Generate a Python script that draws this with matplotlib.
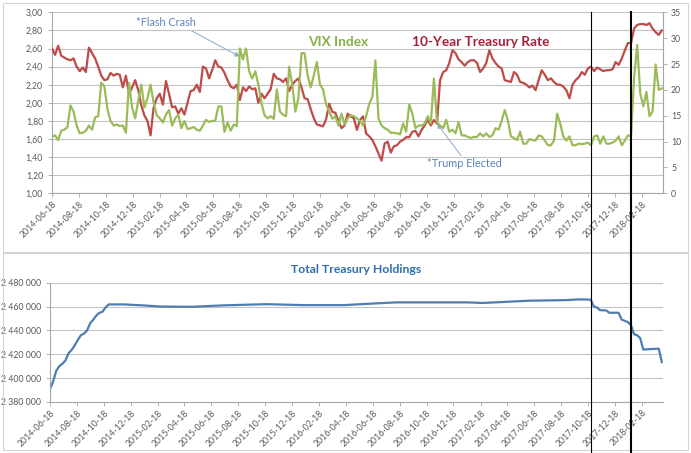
import numpy as np
import matplotlib
matplotlib.use("Agg")
import matplotlib.pyplot as plt
import matplotlib.transforms as mtransforms
from matplotlib.lines import Line2D
from matplotlib.patches import Rectangle

# weekly observations, week 0 = 2014-06-18
start = np.datetime64("2014-06-18")

rate = [2.60, 2.53, 2.63, 2.52, 2.50, 2.48, 2.47, 2.49, 2.40, 2.35,
        2.39, 2.34, 2.61, 2.55, 2.49, 2.40, 2.30, 2.25, 2.26, 2.33,
        2.30, 2.32, 2.31, 2.17, 2.30, 2.10, 2.17, 2.25, 2.14, 1.97,
        1.86, 1.80, 1.64, 1.95, 2.05, 2.10, 1.98, 2.24, 2.10, 1.95,
        1.96, 1.88, 1.94, 1.87, 2.00, 2.13, 2.14, 2.20, 2.12, 2.40,
        2.38, 2.27, 2.36, 2.47, 2.40, 2.39, 2.33, 2.25, 2.18, 2.16,
        2.20, 2.03, 2.17, 2.13, 2.18, 2.15, 2.16, 2.00, 2.10, 2.05,
        2.10, 2.15, 2.32, 2.27, 2.26, 2.23, 2.27, 2.13, 2.20, 2.24,
        2.27, 2.17, 2.05, 2.04, 1.93, 1.83, 1.76, 1.75, 1.74, 1.82,
        1.99, 1.90, 1.89, 1.80, 1.72, 1.75, 1.88, 1.85, 1.83, 1.70,
        1.81, 1.85, 1.66, 1.63, 1.59, 1.52, 1.44, 1.36, 1.55, 1.57,
        1.45, 1.52, 1.53, 1.57, 1.59, 1.62, 1.62, 1.68, 1.69, 1.63,
        1.70, 1.75, 1.81, 1.75, 1.81, 1.77, 2.25, 2.34, 2.36, 2.44,
        2.58, 2.55, 2.48, 2.45, 2.41, 2.45, 2.47, 2.47, 2.44, 2.34,
        2.38, 2.44, 2.58, 2.49, 2.44, 2.40, 2.38, 2.25, 2.24, 2.23,
        2.34, 2.31, 2.23, 2.22, 2.20, 2.17, 2.19, 2.14, 2.25, 2.36,
        2.31, 2.25, 2.27, 2.23, 2.20, 2.20, 2.18, 2.14, 2.05, 2.20,
        2.25, 2.28, 2.34, 2.31, 2.38, 2.40, 2.35, 2.39, 2.37, 2.35,
        2.36, 2.36, 2.37, 2.45, 2.42, 2.49, 2.58, 2.66, 2.66, 2.82,
        2.86, 2.87, 2.87, 2.86, 2.88, 2.82, 2.78, 2.75, 2.80]

vix = [10.9, 11.2, 10.3, 12.1, 12.3, 12.8, 17.0, 15.8, 13.1, 11.6,
       11.7, 12.1, 13.1, 12.3, 14.7, 14.9, 21.4, 20.7, 16.3, 14.0,
       13.1, 13.3, 13.0, 13.1, 11.7, 21.4, 16.6, 14.5, 17.9, 21.0,
       16.6, 18.4, 21.0, 17.5, 15.1, 14.5, 13.7, 15.2, 16.1, 13.1,
       14.5, 15.2, 12.6, 14.0, 12.4, 12.6, 12.8, 12.3, 12.1, 13.1,
       14.2, 13.8, 14.0, 14.0, 16.8, 16.8, 11.9, 13.7, 12.1, 13.3,
       13.0, 28.0, 25.9, 28.0, 23.6, 22.2, 23.6, 21.0, 17.5, 15.1,
       14.5, 14.9, 14.4, 20.1, 15.8, 15.2, 14.9, 24.5, 21.0, 15.8,
       18.4, 27.1, 27.1, 22.8, 20.5, 22.8, 25.4, 21.0, 20.1, 17.2,
       15.8, 14.4, 14.9, 13.1, 15.4, 13.3, 14.5, 15.1, 14.9, 14.5,
       14.0, 13.1, 14.9, 17.3, 18.6, 25.7, 14.5, 13.1, 12.6, 12.3,
       11.7, 11.7, 11.6, 11.4, 13.5, 11.9, 17.2, 15.4, 12.6, 13.1,
       13.1, 13.5, 14.9, 13.5, 22.2, 13.7, 13.1, 12.6, 14.2, 11.9,
       12.3, 11.6, 13.8, 11.2, 11.2, 10.9, 10.7, 10.9, 10.9, 11.6,
       11.0, 11.6, 10.9, 11.2, 12.6, 12.3, 14.0, 16.1, 14.2, 11.0,
       10.7, 10.3, 11.9, 9.6, 9.6, 10.5, 10.3, 10.2, 11.2, 11.0,
       10.2, 9.3, 9.3, 10.2, 15.4, 13.5, 11.0, 10.2, 11.0, 9.3,
       9.3, 9.6, 9.5, 9.6, 9.8, 9.3, 11.0, 11.2, 9.6, 11.0,
       9.6, 9.6, 9.8, 10.2, 11.0, 9.3, 10.2, 11.2, 11.0, 22.4,
       28.7, 19.3, 16.8, 19.6, 14.9, 15.8, 24.9, 20.0, 20.3]

hold_week = [0, 1, 2, 3, 4, 5, 6, 7, 8, 9, 10, 11, 12, 13, 14, 15, 16, 17, 18, 19,
             24, 30, 36, 46, 56, 70, 82, 95, 105, 112,
             135, 140, 148, 155, 167, 171, 175,
             176, 177, 178, 180, 181, 184, 185, 186, 187, 188, 189, 190, 191, 192, 197, 198]
holdings = [2391000, 2397000, 2406000, 2410000, 2412000, 2414800, 2420800, 2423600,
            2427500, 2432000, 2436000, 2437300, 2440000, 2446000, 2449000, 2452500,
            2454700, 2455700, 2459300, 2461800,
            2461800, 2461000, 2460000, 2459800, 2461000, 2462000, 2461200, 2461200,
            2462600, 2463500,
            2463500, 2463000, 2464000, 2464900, 2465400, 2466000, 2465800,
            2460000, 2459200, 2457000, 2456700, 2454800, 2454800, 2449100, 2448000,
            2447000, 2444500, 2436800, 2436000, 2433500, 2424000, 2424700, 2413500]

xtick_labels = ["2014-06-18", "2014-08-18", "2014-10-18", "2014-12-18", "2015-02-18",
                "2015-04-18", "2015-06-18", "2015-08-18", "2015-10-18", "2015-12-18",
                "2016-02-18", "2016-04-18", "2016-06-18", "2016-08-18", "2016-10-18",
                "2016-12-18", "2017-02-18", "2017-04-18", "2017-06-18", "2017-08-18",
                "2017-10-18", "2017-12-18", "2018-02-18"]

event_weeks = [175, 188]   # runoff start / second marker

week = np.timedelta64(7, "D")
dates = start + np.arange(len(rate)) * week
hold_dates = start + np.array(hold_week) * week
xticks = np.array(xtick_labels, dtype="datetime64[D]")
xmax = np.datetime64("2018-04-06")

plt.rcParams["font.family"] = ["Lato", "DejaVu Sans"]

W, H = 691, 453
fig = plt.figure(figsize=(W / 100, H / 100), dpi=100)
fx = lambda p: p / W
fy = lambda p: 1 - p / H

# panel frames
for top, bot in [(2.5, 252.5), (252.5, 450)]:
    fig.add_artist(Rectangle((fx(2.5), fy(bot)), fx(688) - fx(2.5), fy(top) - fy(bot),
                             transform=fig.transFigure, fill=False, ec="#d4d4d4", lw=0.8))

grey = "#a6a6a6"
lab = "#595959"
grid = "#c3c3c3"

ax1 = fig.add_axes([fx(52), fy(193.3), fx(662.7) - fx(52), fy(12.3) - fy(193.3)])
ax2 = ax1.twinx()
ax3 = fig.add_axes([fx(50), fy(402), fx(662.7) - fx(50), fy(282.7) - fy(402)])

ax1.plot(dates, rate, color="#be4b48", lw=1.6, zorder=3)
ax2.plot(dates, vix, color="#9bbb59", lw=1.6)

ax1.set_xlim(start, xmax)
ax1.set_ylim(1, 3)
ax1.set_yticks(np.arange(1, 3.01, 0.2))
ax1.set_yticklabels([f"{v:.2f}".replace(".", ",") for v in np.arange(1, 3.01, 0.2)])
ax2.set_ylim(0, 35)
ax2.set_yticks(range(0, 36, 5))
ax1.set_xticks(xticks)
ax1.set_xticklabels(xtick_labels, rotation=45, ha="right", rotation_mode="anchor")
ax1.grid(axis="y", color=grid, lw=0.8)
ax1.set_axisbelow(True)

for a in (ax1, ax2):
    a.tick_params(labelsize=6.3, color=grey, labelcolor=lab, length=3, width=0.6)
    for s in a.spines.values():
        s.set_visible(False)
ax1.spines["left"].set_visible(True)
ax1.spines["bottom"].set_visible(True)
ax2.spines["right"].set_visible(True)
for s in ("left", "bottom"):
    ax1.spines[s].set_color(grey)
ax2.spines["right"].set_color(grey)
ax1.tick_params(axis="x", pad=1.5)
ax2.tick_params(axis="y", pad=3)

fig.text(fx(338), fy(41.5), "VIX Index", color="#8aae4a", fontsize=9.8,
         fontweight="bold", ha="center", va="center")
fig.text(fx(480.5), fy(42.5), "10-Year Treasury Rate", color="#a3223a", fontsize=9.8,
         fontweight="bold", ha="center", va="center")

arrow = dict(arrowstyle="-|>", color="#8aa8d0", lw=0.7, mutation_scale=7, shrinkA=0, shrinkB=0)
ax1.annotate("*Flash Crash", xy=(dates[61], 2.51), xytext=(0.186, 0.942),
             textcoords="axes fraction", ha="center", va="center", fontsize=7.8,
             color="#5a84bd", arrowprops=dict(arrow, relpos=(0.82, 0.1)))
ax1.annotate("*Trump Elected", xy=(dates[125], rate[125]), xytext=(0.6746, 0.162),
             textcoords="axes fraction", ha="center", va="center", fontsize=7.8,
             color="#5a84bd", arrowprops=dict(arrow, relpos=(0.5, 0.9)))

# bottom panel
ax3.plot(hold_dates, holdings, color="#4f7db3", lw=1.6)
ax3.set_xlim(start, xmax)
ax3.set_ylim(2380000, 2480000)
ax3.set_yticks(range(2380000, 2480001, 20000))
ax3.set_yticklabels([f"{v:,}".replace(",", " ") for v in range(2380000, 2480001, 20000)])
ax3.set_xticks(xticks)
ax3.set_xticklabels(xtick_labels, rotation=45, ha="right", rotation_mode="anchor")
ax3.grid(axis="y", color=grid, lw=0.8)
ax3.set_axisbelow(True)
ax3.tick_params(labelsize=6.3, color=grey, labelcolor=lab, length=3, width=0.6)
ax3.tick_params(axis="x", pad=1.5)
for s in ("top", "right"):
    ax3.spines[s].set_visible(False)
for s in ("left", "bottom"):
    ax3.spines[s].set_color(grey)
ax3.set_title("Total Treasury Holdings", color="#2f6fad", fontsize=8.8,
              fontweight="bold", pad=7)

# event markers spanning both panels
trans = mtransforms.blended_transform_factory(ax1.transData, fig.transFigure)
for wk, lw in zip(event_weeks, [0.8, 1.5]):
    xd = matplotlib.dates.date2num(start + wk * week)
    fig.add_artist(Line2D([xd, xd], [fy(12.3), 0], transform=trans, color="black", lw=lw))

fig.savefig("out.png", dpi=100)
